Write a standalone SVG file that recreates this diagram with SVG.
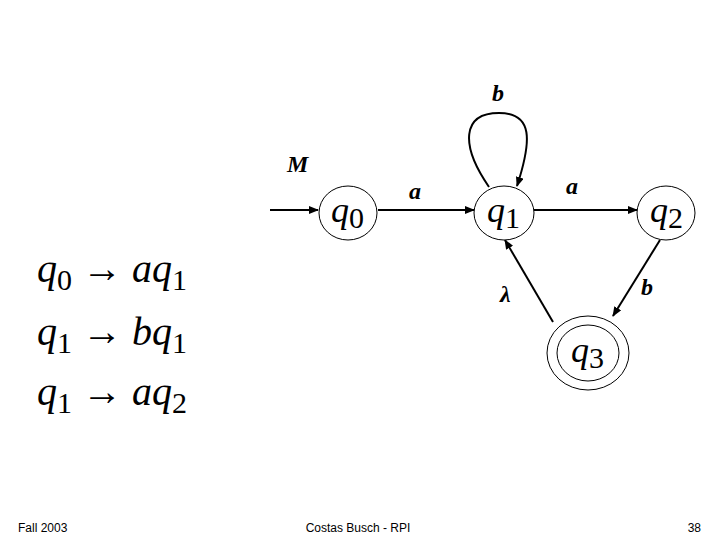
<svg xmlns="http://www.w3.org/2000/svg" width="720" height="540" viewBox="0 0 720 540">
<style>
.n{fill:#fff;stroke:#000;stroke-width:1}
.e{fill:none;stroke:#000;stroke-width:2}
.t{font-family:"Liberation Serif",serif;font-size:36px}
.q{font-style:italic}
.s{font-size:30px;font-style:normal}
.eq{font-family:"Liberation Serif",serif;font-size:40px}
.l{font-family:"Liberation Serif",serif;font-style:italic;font-weight:bold;font-size:24px}
.f{font-family:"Liberation Sans",sans-serif;font-size:12px}
</style>
<defs><marker id="ah" markerWidth="10" markerHeight="8" refX="9" refY="4" orient="auto" markerUnits="userSpaceOnUse"><path d="M0,0L10,4L0,8z"/></marker></defs>
<rect width="720" height="540" fill="#fff"/>
<g id="connectors">
<line class="e" x1="270" y1="210" x2="318" y2="210" marker-end="url(#ah)"/>
<line class="e" x1="378" y1="210" x2="474" y2="210" marker-end="url(#ah)"/>
<line class="e" x1="534" y1="210" x2="637" y2="210" marker-end="url(#ah)"/>
<line class="e" x1="660" y1="240" x2="613" y2="316" marker-end="url(#ah)"/>
<line class="e" x1="553" y1="322" x2="505" y2="240" marker-end="url(#ah)"/>
<path class="e" d="M489,187 C460,145 462,113 499,113 C533,113 532,140 517,186" marker-end="url(#ah)"/>
</g>
<g id="q0"><ellipse class="n" cx="348" cy="213" rx="29" ry="27"/><text class="t" x="331" y="222"><tspan class="q">q</tspan><tspan class="s" dy="6">0</tspan></text></g>
<g id="q1"><ellipse class="n" cx="504" cy="213" rx="30" ry="27"/><text class="t" x="487" y="222"><tspan class="q">q</tspan><tspan class="s" dy="6">1</tspan></text></g>
<g id="q2"><ellipse class="n" cx="666" cy="213" rx="29" ry="27"/><text class="t" x="650" y="222"><tspan class="q">q</tspan><tspan class="s" dy="6">2</tspan></text></g>
<g id="q3"><ellipse class="n" cx="588" cy="353" rx="41" ry="37"/><ellipse class="n" cx="588" cy="353" rx="31" ry="28"/><text class="t" x="571" y="362"><tspan class="q">q</tspan><tspan class="s" dy="6">3</tspan></text></g>
<text class="l" x="492" y="101">b</text>
<text class="l" x="287" y="172">M</text>
<text class="l" x="409" y="199">a</text>
<text class="l" x="566" y="194">a</text>
<text class="l" x="500" y="302">λ</text>
<text class="l" x="641" y="295">b</text>
<text class="eq" x="37" y="282"><tspan class="q">q</tspan><tspan class="s" font-size="32" dy="8">0</tspan><tspan dy="-8"> → </tspan><tspan class="q">aq</tspan><tspan class="s" dy="8">1</tspan></text>
<text class="eq" x="37" y="345"><tspan class="q">q</tspan><tspan class="s" dy="8">1</tspan><tspan dy="-8"> → </tspan><tspan class="q">bq</tspan><tspan class="s" dy="8">1</tspan></text>
<text class="eq" x="37" y="405"><tspan class="q">q</tspan><tspan class="s" dy="8">1</tspan><tspan dy="-8"> → </tspan><tspan class="q">aq</tspan><tspan class="s" dy="8">2</tspan></text>
<text class="f" x="18" y="532">Fall 2003</text>
<text class="f" x="358" y="532" text-anchor="middle">Costas Busch - RPI</text>
<text class="f" x="701" y="532" text-anchor="end">38</text>
</svg>
